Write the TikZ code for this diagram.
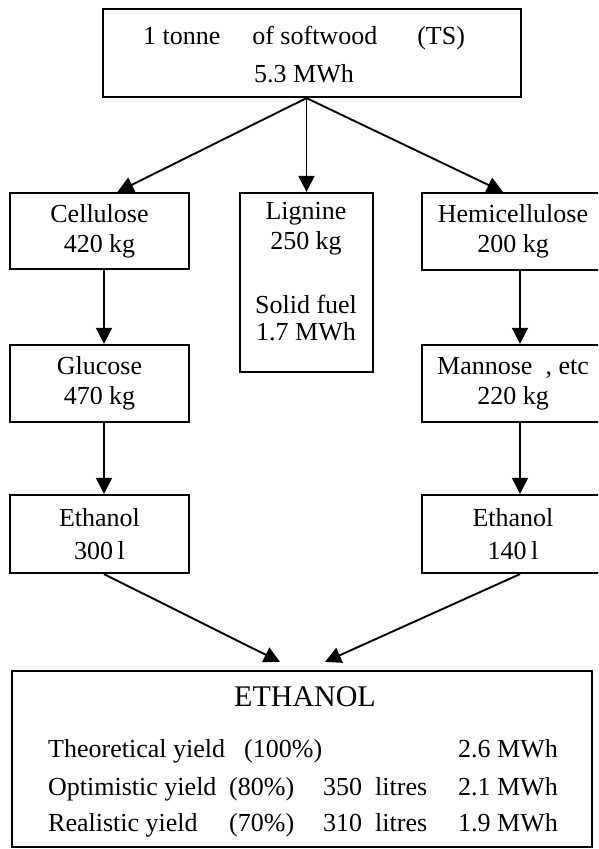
\documentclass[tikz,border=0pt]{standalone}
\usepackage{fontspec}
\setmainfont{Liberation Serif}
\usetikzlibrary{arrows.meta}
\begin{document}
\begin{tikzpicture}[x=1pt,y=-1pt,
  box/.style={draw, line width=2.2pt, inner sep=0pt, align=center, font=\fontsize{26}{30}\selectfont},
  txt/.style={inner sep=0pt, align=center, font=\fontsize{26}{30}\selectfont},
  row/.style={inner sep=0pt, anchor=base west, font=\fontsize{26}{30}\selectfont},
  arr/.style={line width=1.9pt, -{Triangle[length=16pt,width=16pt]}}]
\useasboundingbox (0,0) rectangle (598,849);
\fill[white] (0,0) rectangle (598,849);
\clip (0,0) rectangle (598,849);

% top
\node[box, minimum width=418pt, minimum height=88pt] (top) at (312,53) {};
\node[txt] (topt) at (304,55) {1 tonne\hspace{32pt}of softwood\hspace{40pt}(TS)\\[8pt]5.3 MWh};

% second row
\node[box, minimum width=179pt, minimum height=76pt] (cel) at (99.5,231) {Cellulose\\420 kg};
\node[box, minimum width=133pt, minimum height=179pt] (lig) at (306.5,282.5) {};
\node[txt] (ligt) at (306,272) {Lignine\\250 kg\\[34pt]Solid fuel\\[-3pt]1.7 MWh};
\node[box, minimum width=182pt, minimum height=77pt] (hem) at (513,231.5) {Hemicellulose\\200 kg};

% third row
\node[box, minimum width=179pt, minimum height=77pt] (glu) at (99.5,383.5) {Glucose\\470 kg};
\node[box, minimum width=182pt, minimum height=77pt] (man) at (513,383.5) {Mannose\ \ , etc\\220 kg};

% fourth row
\node[box, minimum width=179pt, minimum height=78pt] (ethl) at (99.5,534) {Ethanol\\[3pt]300\,l};
\node[box, minimum width=182pt, minimum height=78pt] (ethr) at (513,534) {Ethanol\\[3pt]140\,l};

% result box
\node[box, minimum width=580pt, minimum height=176pt] (eth) at (302,759) {};
\node[txt, font=\fontsize{30}{34}\selectfont] (etht) at (305,697) {ETHANOL};
\node[row] (r1a) at (48,757) {Theoretical yield};
\node[row] (r1b) at (244,757) {(100\%)};
\node[row] (r1d) at (458,757) {2.6 MWh};
\node[row] (r2a) at (48,795) {Optimistic yield};
\node[row] (r2b) at (229,795) {(80\%)};
\node[row] (r2c) at (323,795) {350\ \ litres};
\node[row] (r2d) at (458,795) {2.1 MWh};
\node[row] (r3a) at (48,831) {Realistic yield};
\node[row] (r3b) at (229,831) {(70\%)};
\node[row] (r3c) at (323,831) {310\ \ litres};
\node[row] (r3d) at (458,831) {1.9 MWh};

% connectors
\coordinate (src) at (lig.north |- top.south);
\draw[arr] (src) -- ([xshift=18pt]cel.north);
\draw[arr] (src) -- (lig.north);
\draw[arr] (src) -- ([xshift=-10pt]hem.north);
\draw[arr] ([xshift=4.5pt]cel.south) -- ([xshift=4.5pt]glu.north);
\draw[arr] ([xshift=4.5pt]glu.south) -- ([xshift=4.5pt]ethl.north);
\draw[arr] ([xshift=7pt]hem.south) -- ([xshift=7pt]man.north);
\draw[arr] ([xshift=7pt]man.south) -- ([xshift=7pt]ethr.north);
\draw[arr] ([xshift=4.5pt]ethl.south) -- ([xshift=-22pt,yshift=8pt]eth.north);
\draw[arr] ([xshift=7pt]ethr.south) -- ([xshift=23pt,yshift=8pt]eth.north);
\end{tikzpicture}
\end{document}
